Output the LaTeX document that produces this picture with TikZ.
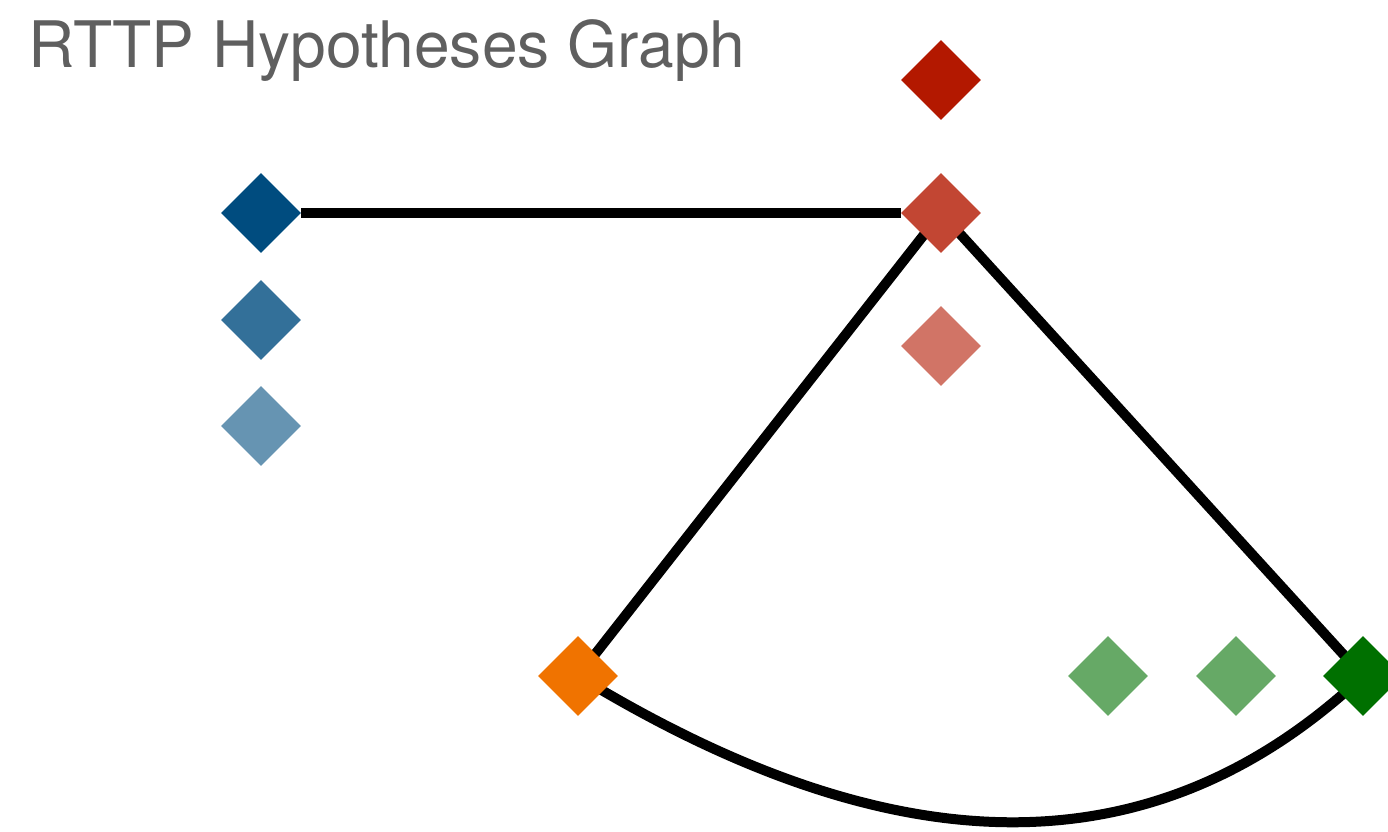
\documentclass[tikz,border=0pt]{standalone}
\usepackage{fontspec}
\setmainfont{TeX Gyre Heros}
\usepackage{tikz}
\usetikzlibrary{
    shapes.geometric,
    backgrounds
}
\usepackage{xcolor}

\definecolor{hypblue}{RGB}{0,76,127}
\definecolor{hypred}{RGB}{179,24,0}
\definecolor{hyporange}{RGB}{240,115,0}
\definecolor{hypgreen}{RGB}{0,112,0}
\definecolor{titlegray}{RGB}{95,95,95}

\begin{document}
\begin{tikzpicture}[
    x=0.02cm, y=-0.02cm,
    hyp/.style={
        diamond,
        minimum size=1.6cm,
        inner sep=0pt,
        fill=#1
    },
    elo/.style={
        line width=0.2cm,
        black
    }
]
\useasboundingbox (0,0) rectangle (1388,831);

\node[anchor=base west, inner sep=0pt, text=titlegray,
    font=\fontsize{36.5}{40}\selectfont] (titulo) at (28,68) {RTTP Hypotheses Graph};

% hipoteses
\node[hyp=hypblue] (azul1) at (261,213) {};
\node[hyp=hypblue!80!white] (azul2) at (261,320) {};
\node[hyp=hypblue!60!white] (azul3) at (261,426) {};

\node[hyp=hypred] (verm1) at (941,80) {};
\node[hyp=hypred!80!white] (verm2) at (941,213) {};
\node[hyp=hypred!60!white] (verm3) at (941,346) {};

\node[hyp=hyporange] (laranja) at (578,676) {};

\node[hyp=hypgreen!60!white] (verde1) at (1108,676) {};
\node[hyp=hypgreen!60!white] (verde2) at (1236,676) {};
\node[hyp=hypgreen] (verde3) at (1363,676) {};

% arestas
\begin{scope}[on background layer]
\draw[elo] (azul1.east) -- (verm2.west);
\draw[elo] (verm2.center) -- (laranja.center);
\draw[elo] (verm2.center) -- (verde3.center);
\draw[elo] (laranja.center) .. controls +(312,190) and +(-213,200) .. (verde3.center);
\end{scope}

\end{tikzpicture}
\end{document}
